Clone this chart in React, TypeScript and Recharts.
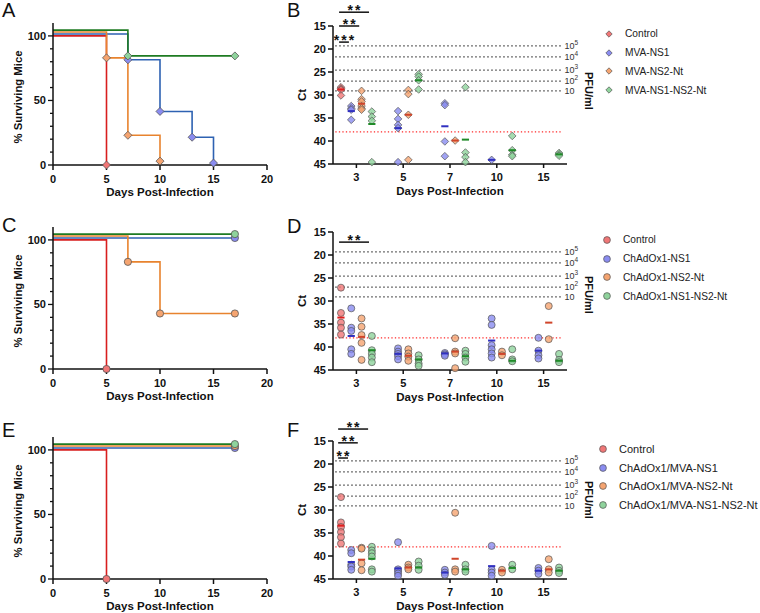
import React from 'react';
import { LineChart, Line, XAxis, YAxis, ScatterChart, Scatter, ReferenceLine, Legend } from 'recharts';

const FONT = '"Liberation Sans", Arial, Helvetica, sans-serif';
const INK = '#111111';

// ---------- groups ----------
const NAMES_B = ['Control', 'MVA-NS1', 'MVA-NS2-Nt', 'MVA-NS1-NS2-Nt'];
const NAMES_D = ['Control', 'ChAdOx1-NS1', 'ChAdOx1-NS2-Nt', 'ChAdOx1-NS1-NS2-Nt'];
const NAMES_F = ['Control', 'ChAdOx1/MVA-NS1', 'ChAdOx1/MVA-NS2-Nt', 'ChAdOx1/MVA-NS1-NS2-Nt'];

const LINE_COLORS = ['#D81E1E', '#2E62B2', '#E8832E', '#1E7B22'];
const FILL_COLORS = ['#F07676', '#8A8CF0', '#F5A470', '#8FD39C'];
const MEAN_COLORS = ['#E01F1F', '#3030C0', '#D0452A', '#1F8A28'];

// ---------- survival curves: [day, % surviving] ----------
const A_CONTROL = [[0, 100], [5, 0]];
const A_NS1 = [[0, 101.5], [7, 81.5], [10, 41.5], [13, 21.5], [15, 1.5]];
const A_NS2 = [[0, 103], [5, 83], [7, 23], [10, 3]];
const A_BOTH = [[0, 104.5], [7, 84.5], [17, 84.5]];

const C_CONTROL = [[0, 100], [5, 0]];
const C_NS1 = [[0, 101.5], [17, 101.5]];
const C_NS2 = [[0, 103], [7, 83], [10, 43], [17, 43]];
const C_BOTH = [[0, 104.5], [17, 104.5]];

const E_CONTROL = [[0, 100], [5, 0]];
const E_NS1 = [[0, 101.5], [17, 101.5]];
const E_NS2 = [[0, 103], [17, 103]];
const E_BOTH = [[0, 104.5], [17, 104.5]];

const SURV_X_TICKS = [0, 5, 10, 15, 20];
const SURV_Y_TICKS = [0, 10, 20, 30, 40, 50, 60, 70, 80, 90, 100];

// ---------- Ct values, one list per day (3, 5, 7, 10, 15) ----------
const DAYS = ['3', '5', '7', '10', '15'];
const GROUP_OFFSETS = [-0.33, -0.11, 0.11, 0.33];
const CT_TICKS = [15, 20, 25, 30, 35, 40, 45];

const B_CONTROL = [[28.3, 28.6, 28.9, 30.1], [], [], [], []];
const B_NS1 = [[32.4, 32.9, 33.2, 35.4], [33.5, 35.2, 36.5, 37.2, 44.6], [31.8, 32.2, 40.1, 43.3], [44.1], []];
const B_NS2 = [[29.1, 30.9, 31.4, 32.4, 32.9, 33.2], [28.9, 29.8, 34.3, 44.1], [39.9], [], []];
const B_BOTH = [[33.6, 34.7, 35.6, 44.6], [25.5, 26.0, 26.8, 28.8], [28.3, 42.5, 43.5, 44.6], [38.9, 42.0, 43.0, 43.3], [42.6, 42.9, 43.2]];
const B_CONTROL_MEAN = [28.8, null, null, null, null];
const B_NS1_MEAN = [33.5, 37.2, 36.8, 44.1, null];
const B_NS2_MEAN = [31.9, 34.3, 39.9, null, null];
const B_BOTH_MEAN = [36.3, 26.8, 39.7, 42.0, 42.9];

const D_CONTROL = [[27.1, 32.6, 34.7, 35.8, 37.3], [], [], [], []];
const D_NS1 = [[31.6, 35.8, 36.5, 40.5, 41.5], [40.3, 41.0, 41.5, 42.0, 42.7], [41.3, 41.6, 41.9], [33.8, 35.2, 39.6, 40.5, 41.4, 42.3], [38.0, 40.8, 41.8, 42.5]];
const D_NS2 = [[33.8, 35.6, 37.4, 39.1, 42.8], [40.5, 41.4, 42.1, 43.0], [38.1, 41.0, 41.4, 44.6], [41.0, 41.8], [31.1, 38.3]];
const D_BOTH = [[37.6, 40.7, 41.5, 42.3, 43.3], [41.8, 42.7, 43.6, 44.1], [40.8, 41.5, 42.3, 43.2], [40.5, 42.7, 43.1], [41.5, 42.8, 43.3]];
const D_CONTROL_MEAN = [33.6, null, null, null, null];
const D_NS1_MEAN = [37.6, 41.5, 41.4, 38.6, 40.8];
const D_NS2_MEAN = [37.8, 41.9, 41.0, 41.5, 34.7];
const D_BOTH_MEAN = [40.7, 42.7, 42.0, 43.0, 43.0];

const F_CONTROL = [[27.2, 32.7, 33.7, 34.8, 35.9, 37.3], [], [], [], []];
const F_NS1 = [[38.7, 39.4, 41.9, 42.3, 43.0], [37.0, 42.9, 43.3, 43.8, 44.3], [43.0, 43.6, 44.1], [37.8, 43.0, 43.6, 44.3], [42.6, 43.2, 43.9]];
const F_NS2 = [[38.2, 38.4, 41.6, 43.1], [41.9, 42.5, 42.9], [30.6, 42.9, 43.4], [43.0, 43.6], [40.7, 42.9, 43.6]];
const F_BOTH = [[38.0, 38.8, 39.4, 40.1, 42.9, 43.4], [41.2, 42.1, 43.0], [41.9, 42.9, 43.4], [41.9, 42.9], [42.5, 43.2, 43.7]];
const F_CONTROL_MEAN = [33.4, null, null, null, null];
const F_NS1_MEAN = [41.3, 42.7, 43.6, 42.2, 43.2];
const F_NS2_MEAN = [40.8, 42.5, 40.6, 43.2, 42.9];
const F_BOTH_MEAN = [40.6, 42.5, 42.9, 42.6, 43.2];

// PFU/ml standard-curve levels (Ct) and limit of detection
const PFU_CT = [19.3, 21.7, 24.6, 27.0, 29.1];
const PFU_EXP = ['5', '4', '3', '2', ''];
const LOD_CT = 38.0;

// significance brackets: [x from, x to, Ct level, stars]
const B_SIG = [[0.13, 0.77, 12.0, '**'], [0.13, 0.56, 15.0, '**'], [0.13, 0.34, 18.5, '***']];
const D_SIG = [[0.13, 0.77, 17.2, '**']];
const F_SIG = [[0.11, 0.75, 12.4, '**'], [0.11, 0.53, 15.4, '**'], [0.11, 0.32, 18.7, '**']];

// ---------- helpers ----------
const SurvTick = (props: any) => {
  const { x, y, payload } = props;
  const major = payload.value % 50 === 0;
  return (
    <g>
      <line x1={x - (major ? 5 : 3)} x2={x} y1={y} y2={y} stroke={INK} strokeWidth={1.3} />
      {major ? (
        <text x={x - 7} y={y} dy="0.36em" textAnchor="end" fill={INK} fontSize={11} fontWeight="bold" fontFamily={FONT}>
          {payload.value}
        </text>
      ) : null}
    </g>
  );
};

const xTitle = (props: any) => {
  const vb = props.viewBox || {};
  return (
    <text x={vb.x + vb.width / 2} y={vb.y + 31} textAnchor="middle" fill={INK} fontSize={11.5} fontWeight="bold" fontFamily={FONT}>
      Days Post-Infection
    </text>
  );
};

const survYTitle = (props: any) => {
  const vb = props.viewBox || {};
  const cx = vb.x + 18;
  const cy = vb.y + vb.height / 2 + 3;
  return (
    <text x={cx} y={cy} dy="0.35em" transform={`rotate(-90, ${cx}, ${cy})`} textAnchor="middle" fill={INK} fontSize={11.3} fontWeight="bold" fontFamily={FONT}>
      % Surviving Mice
    </text>
  );
};

const ctTitle = (props: any) => {
  const vb = props.viewBox || {};
  const cx = vb.x + vb.width / 2;
  const cy = vb.y + vb.height / 2;
  return (
    <text x={cx} y={cy} dy="0.35em" transform={`rotate(-90, ${cx}, ${cy})`} textAnchor="middle" fill={INK} fontSize={11.5} fontWeight="bold" fontFamily={FONT}>
      Ct
    </text>
  );
};

const makeSurvDot = (shape: string, i: number) => (props: any) => {
  const { cx, cy, index } = props;
  if (index === 0 || cx == null || cy == null) return <g key={`d${i}-${index}`} />;
  if (shape === 'diamond') {
    const h = 4;
    return (
      <polygon key={`d${i}-${index}`} points={`${cx},${cy - h} ${cx + h},${cy} ${cx},${cy + h} ${cx - h},${cy}`} fill={FILL_COLORS[i]} stroke="#555" strokeWidth={0.8} />
    );
  }
  return <circle key={`d${i}-${index}`} cx={cx} cy={cy} r={3.6} fill={FILL_COLORS[i]} stroke="#555" strokeWidth={0.8} />;
};

const makePointShape = (shape: string, i: number) => (props: any) => {
  const { cx, cy } = props;
  if (shape === 'diamond') {
    const h = 3.8;
    return (
      <polygon points={`${cx},${cy - h} ${cx + h},${cy} ${cx},${cy + h} ${cx - h},${cy}`} fill={FILL_COLORS[i]} fillOpacity={0.8} stroke="#555" strokeWidth={0.7} />
    );
  }
  return <circle cx={cx} cy={cy} r={3.5} fill={FILL_COLORS[i]} fillOpacity={0.8} stroke="#555" strokeWidth={0.7} />;
};

const makeMeanShape = (i: number) => (props: any) => {
  const { cx, cy } = props;
  return <line x1={cx - 3.6} x2={cx + 3.6} y1={cy} y2={cy} stroke={MEAN_COLORS[i]} strokeWidth={2} />;
};

const makeLegend = (names: string[], shape: string, fontSize: number) => () => (
  <div style={{ fontFamily: FONT, fontSize, color: '#222' }}>
    {names.map((n, i) => (
      <div key={n} style={{ display: 'flex', alignItems: 'center', height: 18.8 }}>
        <svg width={10} height={10} style={{ marginRight: 11, flex: 'none' }}>
          {shape === 'diamond' ? (
            <polygon points="5,1.8 8.2,5 5,8.2 1.8,5" fill={FILL_COLORS[i]} stroke="#555" strokeWidth={0.7} />
          ) : (
            <circle cx={5} cy={5} r={3.4} fill={FILL_COLORS[i]} stroke="#555" strokeWidth={0.7} />
          )}
        </svg>
        <span style={{ whiteSpace: 'nowrap' }}>{n}</span>
      </div>
    ))}
  </div>
);

const PanelLetter = ({ text, left, top }: any) => (
  <div style={{ position: 'absolute', left, top, fontFamily: FONT, fontSize: 20, lineHeight: '20px', color: INK }}>{text}</div>
);

function SurvivalPanel({ top, series, shape }: any) {
  return (
    <div style={{ position: 'absolute', left: 0, top, width: 285, height: 200 }}>
      <LineChart width={285} height={200} margin={{ top: 23, right: 18, bottom: 0, left: 0 }}>
        <XAxis
          type="number"
          dataKey="day"
          domain={[0, 20]}
          ticks={SURV_X_TICKS}
          interval={0}
          height={35}
          tickSize={5}
          tickMargin={5}
          stroke={INK}
          strokeWidth={1.5}
          tick={{ fill: INK, fontSize: 11, fontWeight: 'bold', fontFamily: FONT }}
          label={{ content: xTitle }}
        />
        <YAxis
          type="number"
          dataKey="pct"
          domain={[0, 110]}
          ticks={SURV_Y_TICKS}
          interval={0}
          width={53}
          tickLine={false}
          tickSize={0}
          tickMargin={0}
          stroke={INK}
          strokeWidth={1.5}
          tick={<SurvTick />}
          label={{ content: survYTitle }}
        />
        {series.map((s: number[][], i: number) => (
          <Line
            key={i}
            data={s.map(([day, pct]) => ({ day, pct }))}
            dataKey="pct"
            type="stepAfter"
            stroke={LINE_COLORS[i]}
            strokeWidth={1.6}
            dot={makeSurvDot(shape, i)}
            activeDot={false}
            isAnimationActive={false}
          />
        ))}
      </LineChart>
    </div>
  );
}

function CtPanel({ top, groups, means, names, shape, sig, legendLeft, legendFont, pfuDy }: any) {
  const pointData = groups.map((g: number[][], gi: number) =>
    g.flatMap((vals, di) => vals.map((v) => ({ x: di + 0.5 + GROUP_OFFSETS[gi], ct: v })))
  );
  const meanData = means.map((m: (number | null)[], gi: number) =>
    m.flatMap((v, di) => (v == null ? [] : [{ x: di + 0.5 + GROUP_OFFSETS[gi], ct: v }]))
  );
  return (
    <div style={{ position: 'absolute', left: 240, top, width: 520, height: 200 }}>
      <ScatterChart width={520} height={200} margin={{ top: 26, right: 193, bottom: 0, left: 31 }}>
        <XAxis
          type="number"
          dataKey="x"
          domain={[0, 5]}
          ticks={[0.5, 1.5, 2.5, 3.5, 4.5]}
          interval={0}
          tickFormatter={(v: number) => DAYS[Math.round(v - 0.5)]}
          height={36}
          tickSize={4}
          tickMargin={5}
          stroke={INK}
          strokeWidth={1.5}
          tick={{ fill: INK, fontSize: 11, fontWeight: 'bold', fontFamily: FONT }}
          label={{ content: xTitle }}
        />
        <YAxis
          yAxisId="ct"
          type="number"
          dataKey="ct"
          domain={[15, 45]}
          reversed
          ticks={CT_TICKS}
          interval={0}
          width={62}
          tickSize={5}
          tickMargin={2}
          stroke={INK}
          strokeWidth={1.5}
          tick={{ fill: INK, fontSize: 11, fontWeight: 'bold', fontFamily: FONT }}
          label={{ content: ctTitle }}
        />
        {PFU_CT.map((ct, k) => (
          <ReferenceLine
            key={`pfu${k}`}
            yAxisId="ct"
            segment={[{ x: 0.05, y: ct }, { x: 4.88, y: ct }]}
            stroke="#222"
            strokeWidth={1.3}
            strokeDasharray="1.3 2.7"
            ifOverflow="visible"
            label={{
              content: (p: any) => {
                const vb = p.viewBox || {};
                const endX = vb.x + vb.width;
                const cx = endX + 27;
                const cy = vb.y + pfuDy;
                return (
                  <g>
                    <text x={endX + 3} y={vb.y + 3} fill="#333" fontSize={9} fontFamily={FONT}>
                      10
                      {PFU_EXP[k] ? (
                        <tspan dy={-4} fontSize={6.5}>
                          {PFU_EXP[k]}
                        </tspan>
                      ) : null}
                    </text>
                    {k === PFU_CT.length - 1 ? (
                      <text x={cx} y={cy} dy="0.35em" transform={`rotate(90, ${cx}, ${cy})`} textAnchor="middle" fill={INK} fontSize={11} fontWeight="bold" fontFamily={FONT}>
                        PFU/ml
                      </text>
                    ) : null}
                  </g>
                );
              },
            }}
          />
        ))}
        <ReferenceLine
          yAxisId="ct"
          segment={[{ x: 0.05, y: LOD_CT }, { x: 4.88, y: LOD_CT }]}
          stroke="#FF2A2A"
          strokeWidth={1.3}
          strokeDasharray="1.3 2.2"
          ifOverflow="visible"
        />
        {sig.map(([x1, x2, lvl, stars]: any, k: number) => (
          <ReferenceLine
            key={`sig${k}`}
            yAxisId="ct"
            segment={[{ x: x1, y: lvl }, { x: x2, y: lvl }]}
            stroke={INK}
            strokeWidth={1.5}
            ifOverflow="visible"
            label={{
              content: (p: any) => {
                const vb = p.viewBox || {};
                return (
                  <text x={vb.x + vb.width / 2 + 1} y={vb.y + 3} textAnchor="middle" fill={INK} fontSize={14} fontWeight="bold" fontFamily={FONT} letterSpacing={2}>
                    {stars}
                  </text>
                );
              },
            }}
          />
        ))}
        {pointData.map((d: any[], i: number) => (
          <Scatter
            key={`pts${i}`}
            name={names[i]}
            yAxisId="ct"
            data={d}
            dataKey="ct"
            fill={FILL_COLORS[i]}
            shape={makePointShape(shape, i)}
            legendType={shape === 'diamond' ? 'diamond' : 'circle'}
            isAnimationActive={false}
          />
        ))}
        {meanData.map((d: any[], i: number) => (
          <Scatter
            key={`mean${i}`}
            name={`${names[i]} mean`}
            yAxisId="ct"
            data={d}
            dataKey="ct"
            fill={MEAN_COLORS[i]}
            shape={makeMeanShape(i)}
            legendType="none"
            isAnimationActive={false}
          />
        ))}
        <Legend
          layout="horizontal"
          verticalAlign="middle"
          align="center"
          wrapperStyle={{ left: legendLeft, top: 24.5, width: 200, height: 80 }}
          content={makeLegend(names, shape, legendFont)}
        />
      </ScatterChart>
    </div>
  );
}

export default function App() {
  return (
    <div style={{ position: 'absolute', left: 0, top: 0, width: 760, height: 613, overflow: 'hidden', background: '#fff' }}>
      <SurvivalPanel top={0} series={[A_CONTROL, A_NS1, A_NS2, A_BOTH]} shape="diamond" />
      <SurvivalPanel top={204} series={[C_CONTROL, C_NS1, C_NS2, C_BOTH]} shape="circle" />
      <SurvivalPanel top={414} series={[E_CONTROL, E_NS1, E_NS2, E_BOTH]} shape="circle" />

      <CtPanel
        top={0}
        groups={[B_CONTROL, B_NS1, B_NS2, B_BOTH]}
        means={[B_CONTROL_MEAN, B_NS1_MEAN, B_NS2_MEAN, B_BOTH_MEAN]}
        names={NAMES_B}
        shape="diamond"
        sig={B_SIG}
        legendLeft={364}
        legendFont={10.2}
        pfuDy={0}
      />
      <CtPanel
        top={206}
        groups={[D_CONTROL, D_NS1, D_NS2, D_BOTH]}
        means={[D_CONTROL_MEAN, D_NS1_MEAN, D_NS2_MEAN, D_BOTH_MEAN]}
        names={NAMES_D}
        shape="circle"
        sig={D_SIG}
        legendLeft={362}
        legendFont={10.2}
        pfuDy={-2}
      />
      <CtPanel
        top={415}
        groups={[F_CONTROL, F_NS1, F_NS2, F_BOTH]}
        means={[F_CONTROL_MEAN, F_NS1_MEAN, F_NS2_MEAN, F_BOTH_MEAN]}
        names={NAMES_F}
        shape="circle"
        sig={F_SIG}
        legendLeft={358}
        legendFont={11}
        pfuDy={-6}
      />

      <PanelLetter text="A" left={2} top={0} />
      <PanelLetter text="B" left={287} top={0} />
      <PanelLetter text="C" left={2} top={215} />
      <PanelLetter text="D" left={287} top={216} />
      <PanelLetter text="E" left={2} top={420} />
      <PanelLetter text="F" left={287} top={420} />
    </div>
  );
}
